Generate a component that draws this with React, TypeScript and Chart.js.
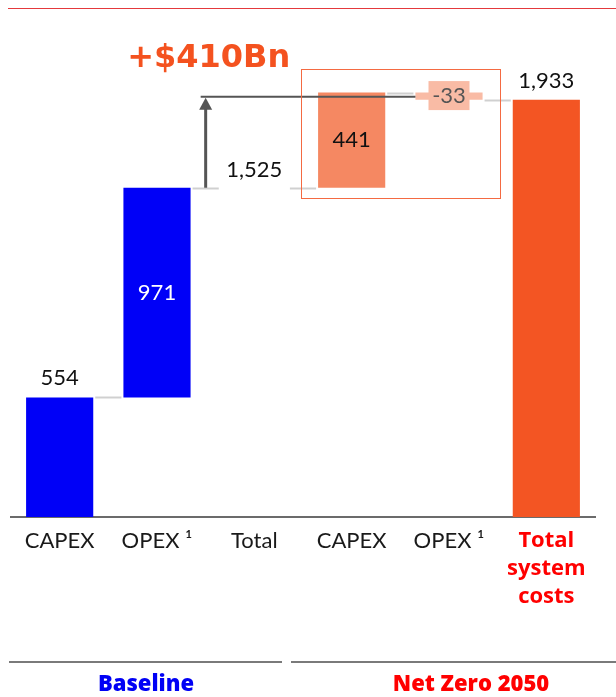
import React, { useEffect, useRef } from 'react';
import { Chart, registerables } from 'chart.js';

Chart.register(...registerables);

// ---- Data ----
const categories: string[][] = [['CAPEX'], ['OPEX ¹'], ['Total'], ['CAPEX'], ['OPEX ¹'], ['Total', 'system', 'costs']];
const barStarts: (number | null)[] = [0, 554, null, 1525, 1933, 0];
const barEnds: (number | null)[] = [554, 1525, null, 1966, 1966, 1933];
const valueLabels: string[] = ['554', '971', '1,525', '441', '-33', '1,933'];
const connectorLevels: number[] = [554, 1525, 1525, 1966, 1933];
const baselineTotal = 1525;
const netZeroTotal = 1933;
const deltaLabel = '+$410Bn';
const groupLabels: string[] = ['Baseline', 'Net Zero 2050'];

const barColors = ['#0000f7', '#0000f7', 'rgba(0,0,0,0)', '#f58862', '#f9bba5', '#f35523'];

const overlayPlugin = {
  id: 'overlay',
  afterDatasetsDraw(chart: any) {
    const { ctx, scales } = chart;
    const x = scales.x;
    const y = scales.y;
    const meta = chart.getDatasetMeta(0);
    const bw = meta.data[0].width;
    const cx = (i: number) => x.getPixelForValue(i);
    const left = (i: number) => cx(i) - bw / 2;
    const right = (i: number) => cx(i) + bw / 2;
    const py = (v: number) => y.getPixelForValue(v);

    ctx.save();
    // connectors
    ctx.strokeStyle = '#d0d0d0';
    ctx.lineWidth = 2;
    connectorLevels.forEach((lv, i) => {
      const yy = Math.round(py(lv)) + 0.5;
      ctx.beginPath();
      ctx.moveTo(right(i) + 2, yy);
      ctx.lineTo(left(i + 1) - 2, yy);
      ctx.stroke();
    });

    // arrow
    const ax = (right(1) + left(2)) / 2;
    const y0 = py(baselineTotal);
    const y1 = py(netZeroTotal) - 3;
    ctx.strokeStyle = '#555555';
    ctx.fillStyle = '#555555';
    ctx.lineWidth = 2;
    ctx.beginPath();
    ctx.moveTo(ax - 5, y1);
    ctx.lineTo(left(4), y1);
    ctx.stroke();
    ctx.lineWidth = 3;
    ctx.beginPath();
    ctx.moveTo(ax, y0);
    ctx.lineTo(ax, y1 + 12);
    ctx.stroke();
    ctx.beginPath();
    ctx.moveTo(ax, y1 + 1);
    ctx.lineTo(ax - 6.5, y1 + 13);
    ctx.lineTo(ax + 6.5, y1 + 13);
    ctx.closePath();
    ctx.fill();

    // highlight box
    const bxL = left(3) - 17;
    const bxR = right(4) + 18;
    const bxT = py(barEnds[3] as number) - 24;
    const bxB = py(baselineTotal) + 10;
    ctx.strokeStyle = '#f46a42';
    ctx.lineWidth = 1;
    ctx.strokeRect(Math.round(bxL) + 0.5, Math.round(bxT) + 0.5, Math.round(bxR - bxL), Math.round(bxB - bxT));

    // delta label
    ctx.font = 'bold 32px "DejaVu Sans"';
    ctx.fillStyle = '#f4521f';
    ctx.textAlign = 'center';
    ctx.textBaseline = 'middle';
    ctx.fillText(deltaLabel, ax + 3, bxT - 10);

    // value labels
    ctx.font = '22px Lato';
    ctx.textAlign = 'center';
    ctx.textBaseline = 'middle';
    ctx.fillStyle = '#111111';
    ctx.fillText(valueLabels[0], cx(0), py(barEnds[0] as number) - 19);
    ctx.fillStyle = '#ffffff';
    ctx.fillText(valueLabels[1], cx(1), (py(barStarts[1] as number) + py(barEnds[1] as number)) / 2);
    ctx.fillStyle = '#111111';
    ctx.fillText(valueLabels[2], cx(2), py(baselineTotal) - 18);
    ctx.fillText(valueLabels[3], cx(3), (py(barStarts[3] as number) + py(barEnds[3] as number)) / 2);
    const my = (py(barStarts[4] as number) + py(barEnds[4] as number)) / 2;
    ctx.fillStyle = '#f9bba5';
    ctx.fillRect(cx(4) - 20.5, my - 15, 41, 29);
    ctx.fillStyle = '#555555';
    ctx.fillText(valueLabels[4], cx(4), my);
    ctx.fillStyle = '#111111';
    ctx.fillText(valueLabels[5], cx(5), py(barEnds[5] as number) - 19);
    ctx.restore();
  },
  afterDraw(chart: any) {
    const { ctx } = chart;
    ctx.save();
    ctx.strokeStyle = '#e4393c';
    ctx.lineWidth = 1;
    ctx.beginPath();
    ctx.moveTo(8, 8.5);
    ctx.lineTo(616, 8.5);
    ctx.stroke();
    ctx.strokeStyle = '#7a7a7a';
    ctx.lineWidth = 2;
    ctx.beginPath();
    ctx.moveTo(9, 662);
    ctx.lineTo(282, 662);
    ctx.moveTo(291, 662);
    ctx.lineTo(616, 662);
    ctx.stroke();
    ctx.font = '800 22px "Open Sans"';
    ctx.textAlign = 'center';
    ctx.textBaseline = 'middle';
    ctx.fillStyle = '#0000f5';
    ctx.fillText(groupLabels[0], 146, 685);
    ctx.fillStyle = '#ff0000';
    ctx.fillText(groupLabels[1], 471, 685);
    ctx.restore();
  },
};

export default function App() {
  const ref = useRef<HTMLCanvasElement | null>(null);
  useEffect(() => {
    document.body.style.margin = '0';
    if (!ref.current) return;
    const data = barStarts.map((s, i) => (s === null || barEnds[i] === null ? null : [s, barEnds[i]]));
    const chart = new Chart(ref.current, {
      type: 'bar',
      data: {
        labels: categories,
        datasets: [
          {
            data: data as any,
            backgroundColor: barColors,
            borderWidth: 0,
            barPercentage: 0.69,
            categoryPercentage: 1,
          },
        ],
      },
      options: {
        animation: false,
        responsive: false,
        maintainAspectRatio: false,
        layout: { padding: { left: 11, right: 21, top: 42, bottom: 0 } },
        plugins: { legend: { display: false }, tooltip: { enabled: false } },
        scales: {
          x: {
            grid: { display: false, drawTicks: false },
            border: { display: true, color: '#6b6b6b', width: 2 },
            ticks: {
              padding: 10,
              maxRotation: 0,
              autoSkip: false,
              color: (c: any) => (c.index === 5 ? '#ff0000' : '#1a1a1a'),
              font: (c: any) =>
                c.index === 5
                  ? { family: 'Open Sans', size: 22, weight: 'bold', lineHeight: 1.27 }
                  : { family: 'Lato', size: 22, weight: 'normal', lineHeight: 1.27 },
            },
            afterFit: (scale: any) => {
              scale.height = 180;
            },
          },
          y: { display: false, min: 0, max: 2200 },
        },
      },
      plugins: [overlayPlugin],
    });
    return () => chart.destroy();
  }, []);
  return <canvas ref={ref} width={616} height={697} style={{ display: 'block' }} />;
}
